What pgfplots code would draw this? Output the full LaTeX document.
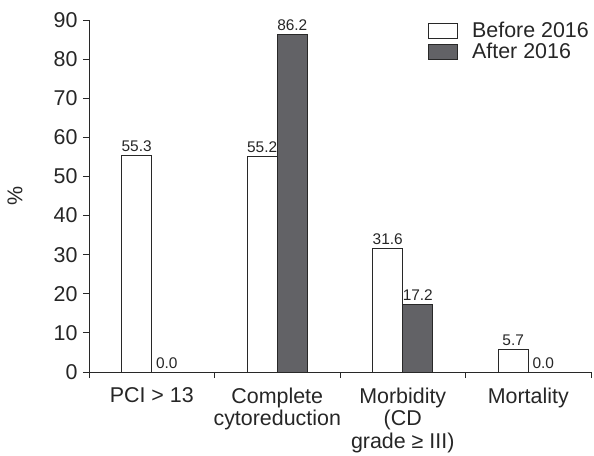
\documentclass[border=0pt]{standalone}
\usepackage{pgfplots}
\pgfplotsset{compat=1.18}
\usepackage{fontspec}
\setmainfont{Liberation Sans}
\definecolor{afterfill}{RGB}{98,98,102}
\definecolor{edge}{RGB}{40,40,40}
\begin{document}
\begin{tikzpicture}
\begin{axis}[
    scale only axis,
    width=502bp, height=352bp,
    xmin=0.5, xmax=4.5,
    ymin=0, ymax=90,
    axis x line*=bottom,
    axis y line*=left,
    axis line style={edge, line width=0.9pt},
    ytick={0,10,...,90},
    xtick={1,2,3,4},
    xticklabels={{PCI > 13},{Complete\\cytoreduction},{Morbidity\\(CD\\grade ≥ III)},{Mortality}},
    minor xtick={0.5,1.5,2.5,3.5,4.5},
    major x tick style={draw=none},
    minor x tick style={edge, line width=0.9pt},
    y tick style={edge, line width=0.9pt},
    tick align=outside,
    major tick length=6bp,
    minor tick length=6bp,
    xticklabel style={align=center, font=\fontsize{21.5}{23}\selectfont, text=black!85, yshift=-6bp},
    yticklabel style={font=\fontsize{21.5}{23}\selectfont, text=black!85, xshift=-2bp},
    /pgf/number format/assume math mode=true,
    ylabel={\%},
    every axis y label/.style={at={(axis description cs:0,0.5)}, xshift=-74bp,
        rotate=90, anchor=center, font=\fontsize{21.5}{23}\selectfont, text=black!85},
    ybar,
    bar width=0.24,
    nodes near coords,
    nodes near coords style={font=\fontsize{15.5}{17}\selectfont, text=black!85,
        /pgf/number format/.cd, fixed, fixed zerofill, precision=1},
    legend style={at={(1,1)}, anchor=north east, draw=none, fill=none,
        font=\fontsize{21.5}{23}\selectfont, text=black!85, inner sep=0pt,
        row sep=0bp},
    legend image code/.code={\draw[#1, line width=0.9pt] (0bp,-7.5bp) rectangle (29bp,7.5bp);
        \path (41bp,0bp);},
    legend cell align=left,
]
\addplot[bar shift=-0.12, fill=white, draw=edge, line width=0.9pt]
    coordinates {(1,55.3) (2,55.2) (3,31.6) (4,5.7)};
\addplot[bar shift=0.12, fill=afterfill, draw=edge, line width=0.9pt]
    coordinates {(1,0.0) (2,86.2) (3,17.2) (4,0.0)};
\legend{Before 2016, After 2016}
\end{axis}
\pgfresetboundingbox
\useasboundingbox (current axis.south west) ++(-89bp,-84bp) rectangle ++(594bp,456bp);
\end{tikzpicture}
\end{document}
